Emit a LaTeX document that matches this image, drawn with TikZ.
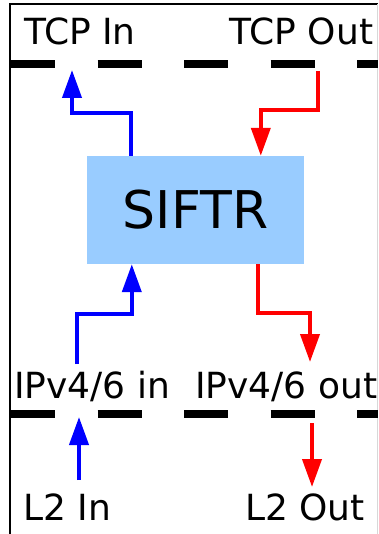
\documentclass[tikz,border=0pt]{standalone}
\usepackage{fontspec}
\setmainfont{DejaVu Sans}
\usepackage{xcolor}
\usepackage{tikz}
\usetikzlibrary{arrows.meta, positioning, calc}
\definecolor{boxfill}{HTML}{99CCFF}
\definecolor{inflow}{HTML}{0000FF}
\definecolor{outflow}{HTML}{FF0000}
\definecolor{edgegray}{HTML}{D8D8D8}

\begin{document}
\begin{tikzpicture}[
    x=1pt, y=-1pt,
    >={Triangle[length=28pt, width=19pt]},
    lbl/.style={anchor=base, inner sep=0pt, font=\fontsize{36}{43}\selectfont},
    layer/.style={line width=8pt, dash pattern=on 44pt off 42.5pt},
    inarr/.style={->, inflow, line width=4pt},
    outarr/.style={->, outflow, line width=4pt}]
  \useasboundingbox (0,0) rectangle (378,534);
  % frame
  \draw[black, line width=1.5pt] (10,534) -- (10,4) -- (378,4);
  \draw[edgegray, line width=1pt] (377,4) -- (377,534);
  % layer boundaries
  \draw[layer] (11,64) -- (378,64);
  \draw[layer] (11,414) -- (378,414);
  % labels
  \node[lbl] (tcpin) at (80,45) {TCP In};
  \node[lbl] (tcpout) at (301.5,45) {TCP Out};
  \node[lbl] (ipin) at (92,398) {IPv4/6 in};
  \node[lbl, anchor=base west] (ipout) at (195,398) {IPv4/6 out};
  \node[lbl] (l2in) at (67.5,520) {L2 In};
  \node[lbl] (l2out) at (305,520) {L2 Out};
  \node[fill=boxfill, minimum width=217pt, minimum height=108pt, inner sep=0pt,
        font=\fontsize{52}{60}\selectfont] (siftr) at (195.5,210) {SIFTR};
  % arrow ends
  \coordinate (tcpintip) at (72,70);
  \coordinate (tcpoutsrc) at (318,71);
  \coordinate (ipinsrc) at (77,364);
  \coordinate (ipouttip) at (310,362);
  \coordinate (l2insrc) at (79,480);
  \coordinate (l2intip) at (79,417);
  \coordinate (l2outsrc) at (312,423);
  \coordinate (l2outtip) at (312,487);
  % flows
  \draw[inarr] ([xshift=44pt]siftr.north west) -- ++(0,-43) -| (tcpintip);
  \draw[outarr] (tcpoutsrc) -- ++(0,39) -| ([xshift=174pt]siftr.north west);
  \draw[inarr] (ipinsrc) -- ++(0,-50) -| ([xshift=45pt]siftr.south west);
  \draw[outarr] ([xshift=171pt]siftr.south west) -- ++(0,49) -| (ipouttip);
  \draw[inarr] (l2insrc) -- (l2intip);
  \draw[outarr] (l2outsrc) -- (l2outtip);
\end{tikzpicture}
\end{document}
